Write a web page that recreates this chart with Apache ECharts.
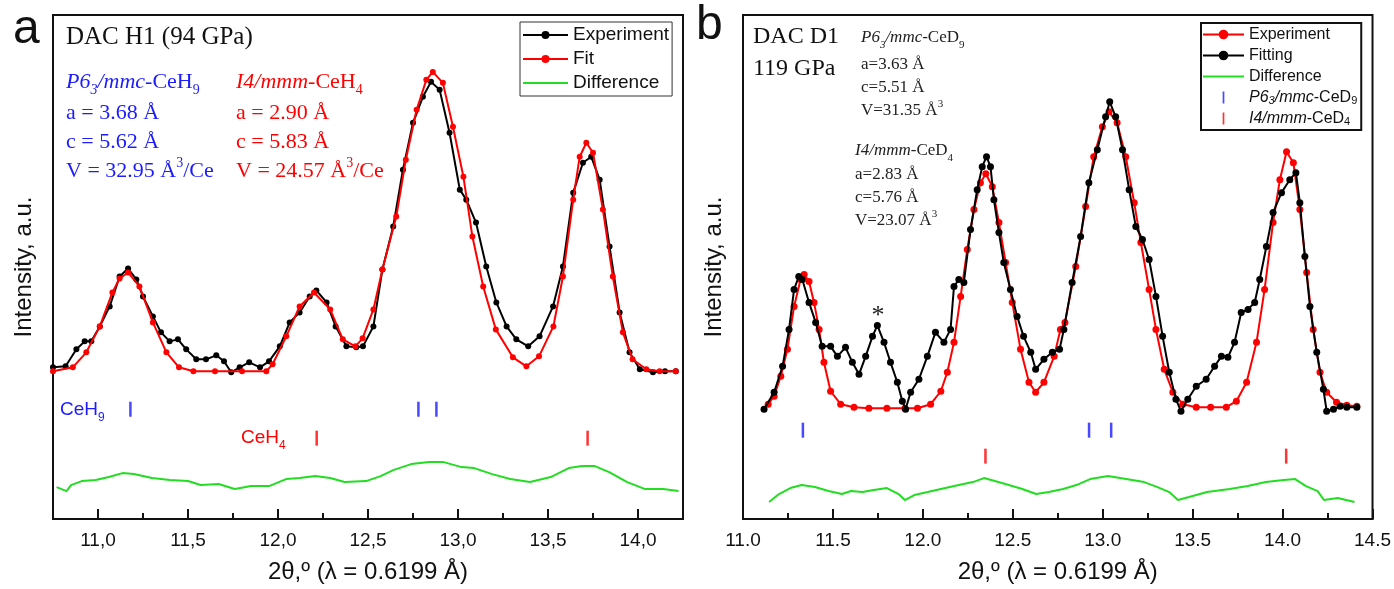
<!DOCTYPE html>
<html><head><meta charset="utf-8">
<script src="https://cdn.jsdelivr.net/npm/echarts@6/dist/echarts.min.js"></script>
<style>html,body{margin:0;padding:0;background:#fff}#c{width:1394px;height:589px}</style>
</head><body><div id="c"></div>
<script>
// ---------- Panel a (DAC H1, 94 GPa) ----------
const aExperiment = [[10.75,4],[10.82,5],[10.88,22],[10.926,30],[10.963,30],[11.01,45],[11.065,65],[11.12,95],[11.167,103],[11.213,92],[11.25,75],[11.305,55],[11.35,39],[11.398,30],[11.444,32],[11.49,22],[11.546,12],[11.6,12],[11.657,16],[11.7,10],[11.74,-1],[11.787,4],[11.84,9],[11.9,4],[11.95,10],[12.01,25],[12.065,49],[12.12,59],[12.176,75],[12.213,81],[12.27,69],[12.32,45],[12.38,25],[12.435,24],[12.472,25],[12.53,45],[12.58,102],[12.64,145],[12.694,202],[12.75,249],[12.805,275],[12.85,290],[12.898,282],[12.953,239],[13.01,182],[13.046,172],[13.1,149],[13.157,105],[13.213,69],[13.27,45],[13.324,32],[13.39,25],[13.453,35],[13.528,65],[13.583,105],[13.64,179],[13.694,209],[13.74,215],[13.787,192],[13.842,125],[13.898,59],[13.953,19],[14.01,2],[14.083,-1],[14.15,0],[14.21,0]];
const aFit = [[10.75,0],[10.86,4],[10.935,19],[11.01,45],[11.08,79],[11.12,93],[11.167,99],[11.23,85],[11.305,49],[11.38,19],[11.45,4],[11.53,0],[11.65,0],[11.8,0],[11.935,0],[11.97,7],[12.046,35],[12.12,65],[12.2,79],[12.29,62],[12.36,32],[12.43,25],[12.47,33],[12.53,62],[12.58,102],[12.657,155],[12.71,212],[12.77,262],[12.824,292],[12.86,300],[12.916,289],[12.972,245],[13.03,195],[13.08,135],[13.14,85],[13.21,42],[13.305,14],[13.38,5],[13.45,15],[13.53,45],[13.583,95],[13.64,172],[13.676,215],[13.713,229],[13.75,219],[13.805,162],[13.86,95],[13.916,39],[13.97,12],[14.046,2],[14.12,0],[14.21,0]];
const aDifference = [[10.77,-116],[10.825,-120],[10.85,-114],[10.91,-110],[10.987,-109],[11.06,-106],[11.136,-102],[11.2,-103],[11.3,-107],[11.4,-109],[11.5,-110],[11.57,-114],[11.67,-113],[11.76,-118],[11.85,-115],[11.95,-115],[12.045,-108],[12.12,-107],[12.207,-105],[12.29,-107],[12.37,-111],[12.49,-110],[12.57,-105],[12.64,-99],[12.74,-93],[12.84,-91],[12.92,-91],[13.02,-96],[13.09,-97],[13.19,-103],[13.29,-108],[13.4,-111],[13.515,-106],[13.615,-97],[13.69,-95],[13.76,-95],[13.84,-101],[13.94,-111],[14.04,-118],[14.14,-118],[14.225,-120]];
const aCeH9Ticks = [11.18, 12.78, 12.88];
const aCeH4Ticks = [12.215, 13.72];
const aXTicks = [11.0, 11.5, 12.0, 12.5, 13.0, 13.5, 14.0];

// ---------- Panel b (DAC D1, 119 GPa) ----------
const bExperiment = [[11.14,5],[11.173,13],[11.21,33],[11.247,60],[11.284,103],[11.32,130],[11.34,135],[11.367,128],[11.395,107],[11.423,80],[11.45,47],[11.487,18],[11.543,5],[11.617,2],[11.7,1],[11.8,1],[11.9,1],[11.97,1],[12.043,5],[12.1,18],[12.136,37],[12.173,67],[12.21,113],[12.247,160],[12.284,200],[12.32,227],[12.35,236],[12.386,223],[12.423,187],[12.46,147],[12.497,107],[12.543,60],[12.59,27],[12.627,17],[12.673,27],[12.73,53],[12.765,80],[12.79,87],[12.85,143],[12.905,203],[12.95,253],[12.998,283],[13.035,298],[13.08,287],[13.128,253],[13.175,207],[13.212,167],[13.258,120],[13.296,80],[13.342,40],[13.39,17],[13.445,5],[13.52,2],[13.6,2],[13.687,2],[13.743,8],[13.8,27],[13.855,67],[13.9,120],[13.947,187],[13.985,230],[14.022,258],[14.06,247],[14.096,200],[14.134,137],[14.17,80],[14.208,37],[14.245,17],[14.3,7],[14.357,4],[14.413,3]];
const bFitting = [[11.117,0],[11.173,17],[11.22,43],[11.256,80],[11.284,120],[11.31,133],[11.33,130],[11.367,107],[11.404,87],[11.44,63],[11.487,63],[11.525,53],[11.57,62],[11.608,47],[11.645,35],[11.682,53],[11.72,73],[11.747,84],[11.784,67],[11.82,47],[11.858,27],[11.886,8],[11.904,0],[11.932,17],[11.978,30],[12.025,53],[12.07,77],[12.117,67],[12.154,80],[12.173,123],[12.2,130],[12.228,127],[12.265,180],[12.302,220],[12.33,243],[12.354,253],[12.376,243],[12.395,210],[12.423,177],[12.45,147],[12.487,120],[12.524,93],[12.56,73],[12.6,57],[12.627,40],[12.673,50],[12.72,57],[12.76,60],[12.784,80],[12.83,127],[12.877,173],[12.923,227],[12.97,260],[13.016,293],[13.039,308],[13.072,293],[13.11,260],[13.147,220],[13.184,183],[13.221,170],[13.258,150],[13.296,113],[13.333,73],[13.37,37],[13.407,10],[13.435,-2],[13.473,10],[13.52,23],[13.575,30],[13.622,43],[13.66,53],[13.696,52],[13.733,67],[13.77,97],[13.808,100],[13.845,107],[13.873,130],[13.91,163],[13.947,197],[13.994,217],[14.04,230],[14.074,237],[14.096,207],[14.124,153],[14.152,103],[14.19,57],[14.227,20],[14.245,-2],[14.283,0],[14.32,3],[14.357,2],[14.413,2]];
const bDifference = [[11.145,-93],[11.2,-85],[11.263,-79],[11.326,-76],[11.4,-78],[11.476,-82],[11.55,-85],[11.6,-82],[11.664,-83],[11.727,-81],[11.8,-79],[11.865,-85],[11.9,-91],[11.952,-86],[12.027,-83],[12.1,-80],[12.2,-76],[12.278,-73],[12.34,-69],[12.4,-72],[12.478,-76],[12.553,-80],[12.63,-85],[12.7,-83],[12.78,-80],[12.854,-76],[12.93,-70],[13.03,-67],[13.13,-70],[13.23,-73],[13.305,-78],[13.37,-83],[13.418,-91],[13.48,-88],[13.58,-83],[13.706,-80],[13.806,-77],[13.907,-73],[14.007,-71],[14.07,-70],[14.13,-77],[14.195,-82],[14.23,-91],[14.307,-89],[14.4,-93]];
const bCeD9Ticks = [11.333, 12.924, 13.047];
const bCeD4Ticks = [12.348, 14.02];
const bStarPeak = [11.75, 93];

// ---------- styling ----------
const FS = 'Liberation Serif', FA = 'Liberation Sans';
const BLUE = '#1c1cff', RED = '#ff0000', GREEN = '#22dd22';
const A_P6_LEVEL = -38, A_I4_LEVEL = -67, B_P6_LEVEL = -21, B_I4_LEVEL = -47;

function richSet(font, size, col) {
  const sub = Math.round(size * 0.62);
  return {
    n: {fill: col, fontFamily: font, fontSize: size, lineHeight: size + 8},
    i: {fill: col, fontFamily: font, fontStyle: 'italic', fontSize: size, lineHeight: size + 8},
    sb: {fill: col, fontFamily: font, fontSize: sub, lineHeight: sub, verticalAlign: 'bottom'},
    isb: {fill: col, fontFamily: font, fontStyle: 'italic', fontSize: sub, lineHeight: sub, verticalAlign: 'bottom'},
    sp: {fill: col, fontFamily: font, fontSize: sub, lineHeight: sub, verticalAlign: 'top'}
  };
}
function txt(x, y, text, font, size, col) {
  return {type: 'text', x: x, y: y, z: 100,
    style: {text: text, rich: richSet(font, size, col), fill: col, fontFamily: font, fontSize: size, verticalAlign: 'middle', align: 'left'}};
}

const graphics = [
  {type: 'text', x: 13, y: 30, style: {text: 'a', fontFamily: FA, fontSize: 48, fill: '#111', verticalAlign: 'middle'}},
  {type: 'text', x: 696, y: 26, style: {text: 'b', fontFamily: FA, fontSize: 48, fill: '#111', verticalAlign: 'middle'}},
  txt(66, 37, '{n|DAC H1 (94 GPa)}', FS, 25, '#111'),
  txt(66, 82, '{i|P6}{isb|3}{i|/mmc}{n|-CeH}{sb|9}', FS, 22, BLUE),
  txt(66, 113, '{n|a = 3.68 Å}', FS, 22, BLUE),
  txt(66, 142, '{n|c = 5.62 Å}', FS, 22, BLUE),
  txt(66, 171, '{n|V = 32.95 Å}{sp|3}{n|/Ce}', FS, 22, BLUE),
  txt(236, 82, '{i|I4/mmm}{n|-CeH}{sb|4}', FS, 22, RED),
  txt(236, 113, '{n|a = 2.90 Å}', FS, 22, RED),
  txt(236, 142, '{n|c = 5.83 Å}', FS, 22, RED),
  txt(236, 171, '{n|V = 24.57 Å}{sp|3}{n|/Ce}', FS, 22, RED),
  txt(60, 410, '{n|CeH}{sb|9}', FA, 19, BLUE),
  txt(241, 438, '{n|CeH}{sb|4}', FA, 19, RED),
  txt(753, 37, '{n|DAC D1}', FS, 24, '#111'),
  txt(753, 69, '{n|119 GPa}', FS, 24, '#111'),
  txt(861, 38, '{i|P6}{isb|3}{i|/mmc}{n|-CeD}{sb|9}', FS, 17, '#222'),
  txt(861, 65, '{n|a=3.63 Å}', FS, 17, '#222'),
  txt(861, 88, '{n|c=5.51 Å}', FS, 17, '#222'),
  txt(861, 111, '{n|V=31.35 Å}{sp|3}', FS, 17, '#222'),
  txt(855, 151, '{i|I4/mmm}{n|-CeD}{sb|4}', FS, 17, '#222'),
  txt(855, 175, '{n|a=2.83 Å}', FS, 17, '#222'),
  txt(855, 198, '{n|c=5.76 Å}', FS, 17, '#222'),
  txt(855, 221, '{n|V=23.07 Å}{sp|3}', FS, 17, '#222')
];

const axisName = {fontFamily: FA, fontSize: 24, color: '#111'};
const tickLabel = {fontFamily: FA, fontSize: 19, color: '#111'};
function yAx(grid, min, max) {
  return {gridIndex: grid, type: 'value', min: min, max: max, axisLine: {show: false}, axisTick: {show: false},
    axisLabel: {show: false}, splitLine: {show: false}, name: 'Intensity, a.u.', nameLocation: 'middle',
    nameRotate: 90, nameGap: 17, nameTextStyle: axisName};
}
function lineSeries(name, data, color, xi, yi, sym, z) {
  return {name: name, type: 'line', xAxisIndex: xi, yAxisIndex: yi, data: data, color: color,
    showSymbol: sym > 0, symbol: sym > 0 ? 'circle' : 'none', symbolSize: sym, z: z, animation: false,
    lineStyle: {color: color, width: 2}, itemStyle: {color: color}};
}
function tickSeries(name, xs, level, color, xi, yi) {
  return {name: name, type: 'scatter', xAxisIndex: xi, yAxisIndex: yi, data: xs.map(v => [v, level]),
    symbol: 'rect', symbolSize: [2.5, 15], itemStyle: {color: color}, animation: false};
}
const tickIcon = 'path://M0,0h2v14h-2z';
const bNames = {
  'b:Experiment': 'Experiment', 'b:Fitting': 'Fitting', 'b:Difference': 'Difference',
  'b:P6': '{i|P6}{isb|3}{i|/mmc}-CeD{sb|9}', 'b:I4': '{i|I4/mmm}-CeD{sb|4}'
};

const option = {
  backgroundColor: '#fff',
  animation: false,
  graphic: graphics,
  grid: [
    {left: 53, top: 15, width: 630, height: 505, show: true, borderColor: '#111', borderWidth: 2, backgroundColor: 'transparent'},
    {left: 743, top: 15, width: 630, height: 505, show: true, borderColor: '#111', borderWidth: 2, backgroundColor: 'transparent'}
  ],
  legend: [
    {orient: 'vertical', left: 520, top: 22, data: ['Experiment', 'Fit', {name: 'Difference', icon: 'path://M0,0h45v2.2h-45z'}],
      borderColor: '#333', borderWidth: 1, padding: [3, 3, 3, 2], itemWidth: 45, itemHeight: 10, itemGap: 4,
      textStyle: {fontFamily: FA, fontSize: 19, color: '#111', lineHeight: 20}, selectedMode: false},
    {orient: 'vertical', left: 1201, top: 23,
      data: ['b:Experiment', 'b:Fitting', {name: 'b:Difference', icon: 'path://M0,0h41v2.2h-41z'}, {name: 'b:P6', icon: tickIcon}, {name: 'b:I4', icon: tickIcon}],
      formatter: n => bNames[n], borderColor: '#111', borderWidth: 2, padding: [3, 4, 3, 1],
      itemWidth: 41, itemHeight: 12, itemGap: 4, selectedMode: false,
      textStyle: {fontFamily: FA, fontSize: 16, color: '#111', lineHeight: 17,
        rich: {i: {fontFamily: FA, fontSize: 16, fontStyle: 'italic', color: '#111'},
               sb: {fontFamily: FA, fontSize: 11, color: '#111', verticalAlign: 'bottom', lineHeight: 10},
               isb: {fontFamily: FA, fontSize: 11, fontStyle: 'italic', color: '#111', verticalAlign: 'bottom', lineHeight: 10}}}}
  ],
  xAxis: [
    {gridIndex: 0, type: 'value', min: 10.75, max: 14.25, interval: 0.25,
      axisLine: {onZero: false, lineStyle: {color: '#111', width: 2}}, axisTick: {inside: true, length: 6, lineStyle: {color: '#111', width: 2}},
      axisLabel: {show: false}, splitLine: {show: false},
      name: '2θ,º (λ = 0.6199 Å)', nameLocation: 'middle', nameGap: 41, nameTextStyle: axisName},
    {gridIndex: 0, type: 'value', min: 10.75, max: 14.25, position: 'bottom',
      axisLine: {show: false, onZero: false}, splitLine: {show: false},
      axisTick: {show: true, inside: true, length: 10, customValues: aXTicks, lineStyle: {color: '#111', width: 2}},
      axisLabel: {customValues: aXTicks, margin: 12, formatter: v => v.toFixed(1).replace('.', ','), ...tickLabel}},
    {gridIndex: 1, type: 'value', min: 11, max: 14.5, interval: 0.5,
      axisLine: {onZero: false, lineStyle: {color: '#111', width: 2}},
      axisTick: {inside: true, length: 10, lineStyle: {color: '#111', width: 2}},
      minorTick: {show: true, splitNumber: 2, length: 6, lineStyle: {color: '#111', width: 2}},
      axisLabel: {margin: 12, formatter: v => v.toFixed(1), ...tickLabel}, splitLine: {show: false},
      name: '2θ,º (λ = 0.6199 Å)', nameLocation: 'middle', nameGap: 41, nameTextStyle: axisName}
  ],
  yAxis: [yAx(0, -148, 357), yAx(1, -110, 395)],
  series: [
    lineSeries('Experiment', aExperiment, '#000', 0, 0, 6, 3),
    lineSeries('Fit', aFit, RED, 0, 0, 6, 4),
    lineSeries('Difference', aDifference, GREEN, 0, 0, 0, 2),
    tickSeries('aCeH9', aCeH9Ticks, A_P6_LEVEL, BLUE, 0, 0),
    tickSeries('aCeH4', aCeH4Ticks, A_I4_LEVEL, RED, 0, 0),
    lineSeries('b:Experiment', bExperiment, RED, 2, 1, 7, 3),
    Object.assign(lineSeries('b:Fitting', bFitting, '#000', 2, 1, 7, 4), {
      markPoint: {symbol: 'circle', symbolSize: 1, itemStyle: {color: 'rgba(0,0,0,0)'},
        label: {show: true, formatter: '*', position: 'inside', fontFamily: FS, fontSize: 26, color: '#222'},
        data: [{coord: bStarPeak}]}}),
    lineSeries('b:Difference', bDifference, GREEN, 2, 1, 0, 2),
    tickSeries('b:P6', bCeD9Ticks, B_P6_LEVEL, BLUE, 2, 1),
    tickSeries('b:I4', bCeD4Ticks, B_I4_LEVEL, RED, 2, 1)
  ]
};
const chart = echarts.init(document.getElementById('c'), null, {renderer: 'canvas'});
chart.setOption(option);
</script></body></html>
